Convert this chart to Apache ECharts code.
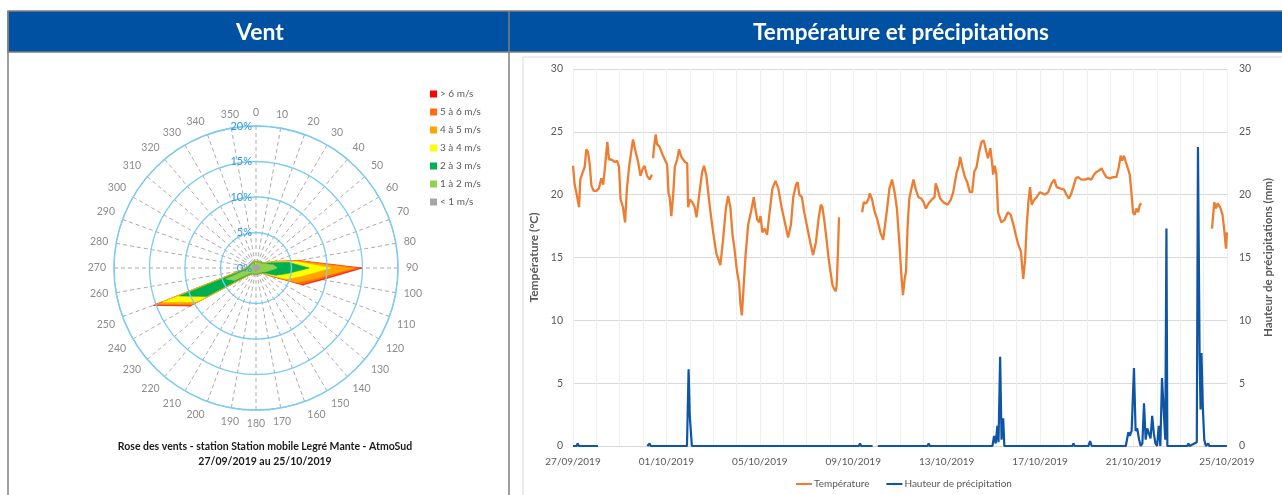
<!DOCTYPE html>
<html><head><meta charset="utf-8">
<script src="https://cdn.jsdelivr.net/npm/echarts@6/dist/echarts.min.js"></script>
<style>html,body{margin:0;padding:0;background:#fff;}#c{width:1282px;height:495px;}</style>
</head><body><div id="c"></div>
<script>
// ---------- Wind rose data (% of time per direction and speed class) ----------
const directions = [0,10,20,30,40,50,60,70,80,90,100,110,120,130,140,150,160,170,180,190,200,210,220,230,240,250,260,270,280,290,300,310,320,330,340,350];
const speedClasses = ['< 1 m/s','1 à 2 m/s','2 à 3 m/s','3 à 4 m/s','4 à 5 m/s','5 à 6 m/s','> 6 m/s'];
const speedColors = ['#A6A6A6','#92D050','#00B050','#FFFF00','#FFA500','#FF6A13','#FF0000'];
const calm    = [0.5,0.5,0.5,0.5,0.5,0.5,0.5,0.5,0.5,0.5,0.5,0.5,0.5,0.5,0.5,0.5,0.5,0.5,0.5,0.5,0.5,0.5,0.5,0.5,0.5,0.5,0.5,0.5,0.5,0.5,0.5,0.5,0.5,0.5,0.5,0.5];
const s1to2   = [0.3,0.3,0.3,0.4,0.4,0.5,0.5,1.0,2.0,2.5,1.5,1.0,0.6,0.4,0.3,0.3,0.3,0.3,0.3,0.3,0.3,0.3,0.4,0.7,3.0,4.0,0.8,0.5,0.4,0.3,0.3,0.3,0.3,0.3,0.3,0.3];
const s2to3   = [0.1,0.1,0.1,0.1,0.2,0.2,0.3,0.7,2.1,4.5,2.5,1.5,0.4,0.2,0.1,0.1,0.1,0.1,0.1,0.1,0.1,0.1,0.2,0.5,4.5,7.0,0.6,0.2,0.1,0.1,0.1,0.1,0.1,0.1,0.1,0.1];
const s3to4   = [0,0,0,0,0,0,0.1,0.3,0.9,3.0,2.0,1.5,0.3,0.1,0,0,0,0,0,0,0,0,0,0.2,1.5,2.5,0.3,0.1,0,0,0,0,0,0,0,0];
const s4to5   = [0,0,0,0,0,0,0,0.1,0.4,3.3,2.0,1.5,0.2,0,0,0,0,0,0,0,0,0,0,0.1,0.7,0.8,0.1,0,0,0,0,0,0,0,0,0];
const s5to6   = [0,0,0,0,0,0,0,0.05,0.1,0.8,0.7,0.8,0.1,0,0,0,0,0,0,0,0,0,0,0,0.3,0.4,0,0,0,0,0,0,0,0,0,0];
const sOver6  = [0,0,0,0,0,0,0,0.05,0.1,0.4,0.3,0.2,0,0,0,0,0,0,0,0,0,0,0,0,0.2,0.2,0,0,0,0,0,0,0,0,0,0];

// ---------- Temperature (°C), x = days since 27/09/2019 00:00 ----------
const tempDay = [0,0.07,0.14,0.26,0.31,0.4,0.5,0.57,0.64,0.71,0.79,0.89,1.0,1.11,1.21,1.29,1.36,1.47,1.54,1.64,1.79,1.89,1.97,2.04,2.14,2.23,2.31,2.4,2.5,2.57,2.67,2.79,2.89,2.97,3.06,3.17,3.29,3.37,3.40,3.43,3.47,3.54,3.6,3.71,3.83,3.93,4.03,4.09,4.14,4.21,4.29,4.36,4.46,4.54,4.64,4.79,4.89,4.93,5.0,5.11,5.21,5.29,5.43,5.53,5.61,5.71,5.86,6.0,6.14,6.31,6.43,6.54,6.64,6.74,6.83,6.9,6.96,7.03,7.11,7.17,7.23,7.29,7.39,7.5,7.57,7.64,7.74,7.8,7.89,7.97,8.03,8.11,8.21,8.31,8.43,8.54,8.67,8.79,8.93,9.07,9.21,9.33,9.43,9.55,9.62,9.69,9.8,9.9,10.04,10.16,10.28,10.4,10.51,10.61,10.68,10.77,10.87,10.96,11.04,11.11,11.18,11.25,11.29,11.35,11.39,11.9,12.38,12.45,12.55,12.64,12.71,12.81,12.92,13.02,13.16,13.28,13.35,13.45,13.55,13.66,13.77,13.87,13.99,14.06,14.13,14.2,14.26,14.33,14.4,14.48,14.58,14.68,14.79,14.91,15.01,15.11,15.22,15.36,15.48,15.53,15.62,15.72,15.86,16.04,16.18,16.28,16.43,16.52,16.58,16.67,16.78,16.88,16.99,17.09,17.18,17.28,17.38,17.49,17.59,17.7,17.77,17.87,17.94,17.99,18.06,18.13,18.2,18.34,18.48,18.62,18.74,18.86,18.96,19.07,19.18,19.24,19.28,19.36,19.43,19.5,19.57,19.64,19.75,19.85,20.0,20.07,20.21,20.35,20.49,20.61,20.71,20.85,21.03,21.13,21.23,21.32,21.42,21.53,21.63,21.77,21.92,22.06,22.2,22.31,22.41,22.51,22.63,22.74,22.84,22.98,23.13,23.27,23.37,23.45,23.52,23.59,23.67,23.74,23.84,23.91,23.98,24.05,24.12,24.2,24.27,24.34,25.5,27.36,27.46,27.53,27.6,27.71,27.81,27.88,27.96,28.0];
const tempVal = [22.3,20.8,20.2,19.0,21.2,21.7,22.2,23.6,23.4,22.5,20.7,20.3,20.3,20.5,21.3,20.8,22.0,24.2,22.8,22.8,22.6,22.7,22.2,19.6,19.0,17.8,20.5,22.2,23.5,24.4,23.5,22.6,21.5,22.0,22.3,21.5,21.2,21.6,null,22.9,23.8,24.8,24.0,23.8,23.2,22.8,22.4,20.1,19.8,18.3,20.0,22.2,22.8,23.6,23.0,22.6,22.5,19.0,19.6,19.4,19.0,18.2,20.4,21.8,22.3,21.5,19.0,17.0,15.3,14.4,16.5,18.8,19.9,19.0,16.8,15.9,16.0,13.8,13.0,11.3,10.4,12.2,15.2,17.6,17.7,18.8,19.8,19.0,18.0,17.8,18.3,17.0,17.3,16.8,18.8,20.5,21.1,20.5,19.0,17.8,16.6,17.6,19.8,20.8,21.0,20.0,19.8,18.6,17.3,16.2,15.2,16.2,18.0,19.2,19.0,17.8,16.2,14.7,13.7,12.8,12.5,12.3,12.8,15.7,18.2,null,18.6,19.4,19.3,19.6,20.1,19.6,18.6,18.1,17.0,16.4,16.4,18.9,20.5,21.2,20.2,18.9,15.7,13.6,12.0,13.3,13.9,17.6,19.7,20.4,21.2,20.4,19.8,19.7,19.4,18.9,19.3,19.6,19.8,20.9,20.4,19.7,19.4,19.2,19.6,20.2,21.8,22.3,23.0,22.2,21.4,21.0,20.2,20.2,21.8,22.2,23.3,24.2,24.3,23.4,22.9,23.7,22.6,21.6,22.3,21.6,18.6,17.8,18.0,18.6,18.4,17.6,16.8,16.0,15.5,14.1,13.3,14.9,17.6,19.4,20.6,19.2,19.6,19.8,20.2,20.3,20.0,20.2,20.9,21.2,20.6,20.5,20.4,20.0,19.7,20.0,20.6,21.3,21.4,21.2,21.2,21.3,21.2,21.6,21.8,21.9,22.1,21.7,21.4,21.3,21.4,21.4,22.2,23.1,22.7,23.1,22.6,22.2,21.6,20.2,18.6,18.4,18.9,18.6,19.2,19.3,null,17.3,19.4,18.9,19.3,19.0,18.4,17.3,15.7,17.0];

// ---------- Precipitation (mm), x = days since 27/09/2019 00:00 ----------
const rainDay = [0,0.15,0.2,0.25,1.07,1.5,3.18,3.23,3.28,3.33,4.88,4.95,5.0,5.09,12.24,12.29,12.34,12.83,12.95,13.05,15.18,15.23,15.28,17.96,18.03,18.1,18.17,18.22,18.29,18.35,18.42,18.47,21.38,21.43,21.48,22.07,22.14,22.21,23.67,23.78,23.84,23.92,24.02,24.09,24.16,24.24,24.31,24.38,24.45,24.52,24.59,24.66,24.73,24.8,24.87,24.94,25.01,25.08,25.15,25.22,25.29,25.36,25.41,25.45,26.3,26.35,26.4,26.71,26.76,26.83,26.87,26.91,26.97,27.03,27.1,27.15,27.2,27.25,28];
const rainVal = [0,0,0.2,0,0,null,0,0,0.2,0,0,6.1,2.4,0,0,0.2,0,0,null,0,0,0.2,0,0,0.8,0.2,1.6,0.3,7.1,0.5,2.2,0,0,0.2,0,0,0.4,0,0,1.1,0.8,1.2,6.2,1.2,1.4,0.5,0,0.2,3.4,0.5,1.4,1.3,0.6,2.4,1.0,0.2,0,1.6,0,5.4,3.0,0.5,17.3,0,0,0.2,0,0.3,23.8,7.4,2.9,7.4,3.0,0.5,0,0,0.2,0,0];

const dateLabels = ['27/09/2019','01/10/2019','05/10/2019','09/10/2019','13/10/2019','17/10/2019','21/10/2019','25/10/2019'];

// ---------- build ----------
const FONT = 'Lato, "Noto Sans", sans-serif';
const classArrays = [calm, s1to2, s2to3, s3to4, s4to5, s5to6, sOver6];
const cum = [];
let run = directions.map(() => 0);
classArrays.forEach(arr => { run = run.map((v, i) => v + arr[i]); cum.push(run.slice()); });

const roseSeries = [];
for (let k = classArrays.length - 1; k >= 0; k--) {
  const pts = directions.map((d, i) => [cum[k][i], d]);
  pts.push([cum[k][0], 360]);
  roseSeries.push({
    name: speedClasses[k], type: 'line', coordinateSystem: 'polar', polarIndex: 0,
    data: pts, symbol: 'none', smooth: false, silent: true,
    lineStyle: { width: 0.6, color: speedColors[k] },
    itemStyle: { color: speedColors[k] },
    areaStyle: { color: speedColors[k], opacity: 1 },
    z: 2
  });
}

const tempData = tempDay.map((d, i) => [d, tempVal[i]]);
const rainData = rainDay.map((d, i) => [d, rainVal[i]]);

const chart = echarts.init(document.getElementById('c'), null, { renderer: 'canvas' });
chart.setOption({
  animation: false,
  backgroundColor: '#fff',
  textStyle: { fontFamily: FONT },
  graphic: [
    { type: 'rect', shape: { x: 8, y: 11, width: 1280, height: 41 }, style: { fill: '#0051A2', stroke: '#7f7f7f', lineWidth: 1.5 }, z: 0 },
    { type: 'line', shape: { x1: 8, y1: 11, x2: 8, y2: 495 }, style: { stroke: '#7f7f7f', lineWidth: 1.5 } },
    { type: 'line', shape: { x1: 509, y1: 11, x2: 509, y2: 495 }, style: { stroke: '#7f7f7f', lineWidth: 1.5 } },
    { type: 'rect', shape: { x: 523, y: 57, width: 770, height: 460 }, style: { fill: 'none', stroke: '#d9d9d9', lineWidth: 1 } },
    { type: 'text', x: 260, y: 33, style: { text: 'Vent', fill: '#fff', font: 'bold 23px ' + FONT, textAlign: 'center', textVerticalAlign: 'middle' } },
    { type: 'text', x: 901, y: 33, style: { text: 'Température et précipitations', fill: '#fff', font: 'bold 22.5px ' + FONT, textAlign: 'center', textVerticalAlign: 'middle' } }
  ],
  title: {
    text: 'Rose des vents - station Station mobile Legré Mante - AtmoSud\n27/09/2019 au 25/10/2019',
    left: 260, top: 434, textAlign: 'center',
    textStyle: { fontFamily: FONT, fontWeight: 'bold', fontSize: 10.5, color: '#1a1a1a', lineHeight: 15 }
  },
  legend: [
    { data: speedClasses.slice().reverse(), orient: 'vertical', left: 425, top: 84, icon: 'rect', itemWidth: 7, itemHeight: 7, itemGap: 8,
      textStyle: { fontFamily: FONT, fontSize: 10, color: '#595959', padding: [0, 0, 0, -2] }, selectedMode: false },
    { data: ['Température', 'Hauteur de précipitation'], left: 790, top: 474, itemWidth: 16, itemHeight: 3, itemGap: 16,
      textStyle: { fontFamily: FONT, fontSize: 10, color: '#595959', padding: [0, 0, 0, -3] }, selectedMode: false }
  ],
  polar: { center: [256, 268], radius: 142 },
  angleAxis: {
    type: 'value', min: 0, max: 360, interval: 10, startAngle: 90, clockwise: true,
    axisLine: { show: true, lineStyle: { color: '#7ECBF2', width: 1.3 } },
    axisTick: { show: false },
    axisLabel: { margin: 8, color: '#8c8c8c', fontSize: 10.5, fontFamily: FONT, formatter: v => (v === 360 ? '' : String(v)) },
    splitLine: { show: true, lineStyle: { color: '#ababab', type: [4, 3], width: 1 } }
  },
  radiusAxis: {
    type: 'value', min: 0, max: 20, interval: 5,
    axisLine: { show: false }, axisTick: { show: false },
    axisLabel: { color: '#2E9AD8', fontSize: 11, fontFamily: FONT, formatter: v => v + '%', margin: 4 },
    splitLine: { show: true, lineStyle: { color: '#7ECBF2', width: 1.3 } },
    z: 5
  },
  grid: { left: 573, right: 54, top: 69, bottom: 49, containLabel: false },
  xAxis: {
    type: 'value', min: 0, max: 28, interval: 1,
    axisLine: { show: true, lineStyle: { color: '#d9d9d9' } },
    axisTick: { show: false },
    axisLabel: { color: '#595959', fontSize: 10, fontFamily: FONT, margin: 11, showMaxLabel: true, showMinLabel: true,
      formatter: v => (v % 4 === 0 ? dateLabels[v / 4] : '') },
    splitLine: { show: true, lineStyle: { color: '#efefef' } }
  },
  yAxis: [
    { type: 'value', min: 0, max: 30, interval: 5, position: 'left',
      name: 'Température (°C)', nameLocation: 'middle', nameGap: 24, nameRotate: 90,
      nameTextStyle: { color: '#595959', fontWeight: 'bold', fontSize: 12, fontFamily: FONT },
      axisLine: { show: false }, axisTick: { show: false },
      axisLabel: { color: '#595959', fontSize: 10.5, fontFamily: FONT, margin: 10 },
      splitLine: { show: true, lineStyle: { color: '#d9d9d9' } } },
    { type: 'value', min: 0, max: 30, interval: 5, position: 'right',
      name: 'Hauteur de précipitations (mm)', nameLocation: 'middle', nameGap: 30, nameRotate: 90,
      nameTextStyle: { color: '#595959', fontWeight: 'bold', fontSize: 11.5, fontFamily: FONT },
      axisLine: { show: false }, axisTick: { show: false },
      axisLabel: { color: '#595959', fontSize: 10.5, fontFamily: FONT, margin: 12 },
      splitLine: { show: false } }
  ],
  series: roseSeries.concat([
    { name: 'Température', type: 'line', xAxisIndex: 0, yAxisIndex: 0, data: tempData, symbol: 'none', connectNulls: false,
      lineStyle: { color: '#ED7D31', width: 2.3 }, itemStyle: { color: '#ED7D31' }, z: 3 },
    { name: 'Hauteur de précipitation', type: 'line', xAxisIndex: 0, yAxisIndex: 1, data: rainData, symbol: 'none', connectNulls: false,
      lineStyle: { color: '#0F55A5', width: 2.2 }, itemStyle: { color: '#0F55A5' }, z: 4 }
  ])
});
</script>
</body></html>
